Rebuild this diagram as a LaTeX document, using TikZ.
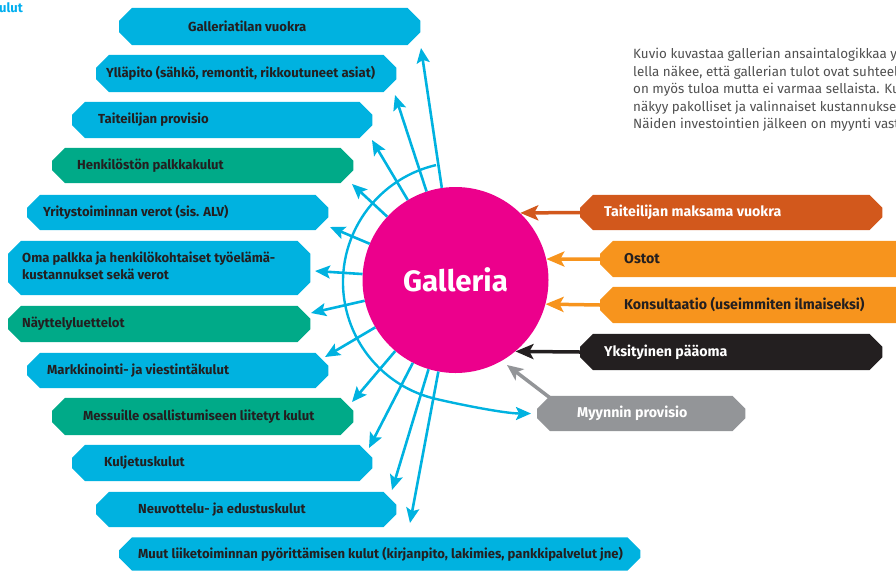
\documentclass[tikz,border=0pt]{standalone}
\usepackage{fontspec}
\setmainfont{Fira Sans}
\usetikzlibrary{arrows.meta,backgrounds}
\definecolor{cblue}{HTML}{00B2E0}
\definecolor{cgreen}{HTML}{00AA88}
\definecolor{cmag}{HTML}{EC008C}
\definecolor{cbrown}{HTML}{D2581C}
\definecolor{corange}{HTML}{F7941D}
\definecolor{cblack}{HTML}{231F20}
\definecolor{cgray}{HTML}{939598}
\definecolor{cdark}{HTML}{231F20}
\definecolor{ctext}{HTML}{505050}
\definecolor{ctitle}{HTML}{00AEEF}
\begin{document}
\begin{tikzpicture}[x=1pt,y=-1pt,
  box/.style={rectangle, anchor=west, inner ysep=0pt, font={\fontsize{13.1}{17}\selectfont\bfseries}, text=cdark},
  rbox/.style={box, font={\fontsize{14.2}{17}\selectfont\bfseries}},
  wbox/.style={rbox, text=white},
  barrow/.style={draw=cblue, line width=2.6pt, -{Stealth[length=15pt,width=13pt,inset=3pt]}},
  inarrow/.style={line width=3.5pt, -{Stealth[length=18pt,width=15pt,inset=4pt]}},
]
\useasboundingbox (0,0) rectangle (896,571);

% left boxes
\node[box, minimum height=37pt, inner xsep=69pt] (gv) at (119,26.5) {\makebox[163pt][l]{Galleriatilan vuokra}};
\node[box, minimum height=37pt, inner xsep=10pt] (yp) at (96,73.5) {\makebox[280pt][l]{Ylläpito (sähkö, remontit, rikkoutuneet asiat)}};
\node[box, minimum height=36pt, inner xsep=26pt] (tp) at (72,120) {\makebox[248pt][l]{Taiteilijan provisio}};
\node[box, minimum height=35pt, inner xsep=25pt] (hp) at (52,165.5) {\makebox[251pt][l]{Henkilöstön palkkakulut}};
\node[box, minimum height=35pt, inner xsep=16pt] (yv) at (27,212.5) {\makebox[269pt][l]{Yritystoiminnan verot (sis. ALV)}};
\node[box, minimum height=54pt, inner xsep=14pt] (op) at (8,268) {\makebox[274pt][l]{\begin{tabular}{@{}l@{}}Oma palkka ja henkilökohtaiset työelämä-\\kustannukset sekä verot\end{tabular}}};
\node[box, minimum height=36pt, inner xsep=14pt] (nl) at (8,324) {\makebox[274pt][l]{Näyttelyluettelot}};
\node[box, minimum height=35pt, inner xsep=20pt] (mv) at (27,370.5) {\makebox[261pt][l]{Markkinointi- ja viestintäkulut}};
\node[box, minimum height=37pt, inner xsep=31pt] (mo) at (52,416.5) {\makebox[239pt][l]{Messuille osallistumiseen liitetyt kulut}};
\node[box, minimum height=36pt, inner xsep=32pt] (kk) at (72,463) {\makebox[236pt][l]{Kuljetuskulut}};
\node[box, minimum height=35pt, inner xsep=42pt] (ne) at (96,509.5) {\makebox[216pt][l]{Neuvottelu- ja edustuskulut}};
\node[box, minimum height=33pt, inner xsep=19pt] (mu) at (119,554) {\makebox[483pt][l]{Muut liiketoiminnan pyörittämisen kulut (kirjanpito, lakimies, pankkipalvelut jne)}};

% right boxes
\node[wbox, minimum height=35pt, inner xsep=24pt] (tv) at (580,212.5) {\makebox[254pt][l]{Taiteilijan maksama vuokra}};
\node[rbox, minimum height=36pt, inner xsep=24pt] (os) at (600,259) {\makebox[282pt][l]{Ostot}};
\node[rbox, minimum height=36pt, inner xsep=24pt] (ko) at (600,305) {\makebox[282pt][l]{Konsultaatio (useimmiten ilmaiseksi)}};
\node[wbox, minimum height=36pt, inner xsep=24pt] (yk) at (580,352) {\makebox[254pt][l]{Yksityinen pääoma}};
\node[wbox, minimum height=35pt, inner xsep=40pt] (mp) at (537,413.5) {\makebox[128pt][l]{Myynnin provisio}};

% hexagon backgrounds
\begin{scope}[on background layer]
\foreach \n/\c in {gv/cblue, yp/cblue, tp/cblue, hp/cgreen, yv/cblue, op/cblue, nl/cgreen, mv/cblue, mo/cgreen, kk/cblue, ne/cblue, mu/cblue, tv/cbrown, os/corange, ko/corange, yk/cblack, mp/cgray}{
  \fill[\c] ([xshift=13pt]\n.north west) -- ([xshift=-13pt]\n.north east) -- ([yshift=-13pt]\n.north east) -- ([yshift=13pt]\n.south east) -- ([xshift=-13pt]\n.south east) -- ([xshift=13pt]\n.south west) -- ([yshift=13pt]\n.south west) -- ([yshift=-13pt]\n.north west) -- cycle;
}
\end{scope}

% circle
\node[circle, fill=cmag, minimum size=186pt, inner sep=0pt, text=white, font={\fontsize{29.5}{31}\selectfont\bfseries}] (g) at (455.5,280) {Galleria};

% arc
\coordinate (as) at (436,165.1);
\draw[draw=cblue, line width=2.4pt, -{Stealth[length=15pt,width=13pt,inset=3pt]}] (as) arc[start angle=103, end angle=257, radius=120pt] .. controls (460,404.6) and (505,413.5) .. ([xshift=-6pt]mp.west);

% outgoing arrows
\coordinate (t1) at (421,48);
\coordinate (t2) at (395,95);
\coordinate (t3) at (372,140);
\coordinate (t4) at (352,184);
\coordinate (t5) at (330,227);
\coordinate (t6) at (315,271);
\coordinate (t7) at (311,313);
\coordinate (t8) at (325,357);
\coordinate (t9) at (352,402);
\coordinate (t10) at (369,448);
\coordinate (t11) at (392,490);
\coordinate (t12) at (410,523);
\foreach \t in {t1,t2,t3,t4,t5,t6,t7,t8,t9,t10,t11,t12}{
  \draw[barrow] (g) -- (\t);
}

% incoming arrows
\draw[inarrow, draw=cbrown] (tv.west) -- (g.46.5);
\draw[inarrow, draw=corange] (os.west) -- (g.13.05);
\draw[inarrow, draw=corange] (ko.west) -- (g.-15.6);
\draw[inarrow, draw=cblack] (yk.west) -- (g.-50.7);
\coordinate (gt) at (507,365);
\draw[draw=cgray, line width=3.5pt, -{Stealth[length=16pt,width=14pt,inset=4pt]}] ([xshift=13pt,yshift=-2pt]mp.north west) -- (gt);

% texts
\node[anchor=west, inner sep=0pt, text=ctitle, font={\fontsize{13}{14}\selectfont\bfseries}] (ul) at (-1,8) {ulut};
\node[anchor=north west, inner sep=0pt, align=left, text=ctext, font={\fontsize{13.4}{17.5}\selectfont}] (desc) at (633,48) {Kuvio kuvastaa gallerian ansaintalogikkaa y\\lella näkee, että gallerian tulot ovat suhteel\\on myös tuloa mutta ei varmaa sellaista. Ku\\näkyy pakolliset ja valinnaiset kustannukse\\Näiden investointien jälkeen on myynti vast};
\end{tikzpicture}
\end{document}
